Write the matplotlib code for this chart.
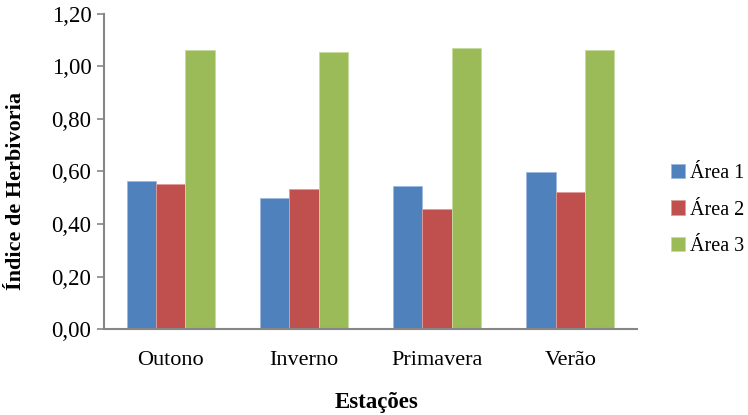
import numpy as np
import matplotlib
matplotlib.use('Agg')
import matplotlib.pyplot as plt
from matplotlib.ticker import FuncFormatter
from matplotlib.font_manager import FontProperties

plt.rcParams['font.family'] = ['Liberation Serif', 'DejaVu Serif']

# Herbivory index per season and area
seasons = ["Outono", "Inverno", "Primavera", "Verão"]
area1 = [0.565, 0.50, 0.545, 0.597]
area2 = [0.552, 0.533, 0.456, 0.521]
area3 = [1.063, 1.055, 1.069, 1.063]
series_labels = ["Área 1", "Área 2", "Área 3"]
colors = ["#4F81BD", "#C0504D", "#9BBB59"]
edges = ["#9DB9DD", "#E09D9B", "#C6DBA0"]

fig = plt.figure(figsize=(7.48, 4.15), dpi=100)
ax = fig.add_axes([0.139, 0.2072, 0.7126, 0.7591])

x = np.arange(len(seasons))
width = 0.22
for i, (vals, lab) in enumerate(zip([area1, area2, area3], series_labels)):
    ax.bar(x + (i - 1) * width, vals, width, color=colors[i], label=lab,
           edgecolor=edges[i], linewidth=0.6)

ax.set_xlim(-0.5, len(seasons) - 0.5)
ax.set_ylim(0, 1.2)
ax.set_yticks(np.arange(0, 1.21, 0.2))
ax.yaxis.set_major_formatter(FuncFormatter(lambda v, p: f"{v:.2f}".replace('.', ',')))
ax.set_xticks(x)
ax.set_xticklabels(seasons)

for s in ['top', 'right']:
    ax.spines[s].set_visible(False)
for s in ['left', 'bottom']:
    ax.spines[s].set_color('#868686')
    ax.spines[s].set_linewidth(1.5)

ax.tick_params(axis='y', length=5, width=1.2, color='#868686', labelsize=16.5, pad=4)
ax.tick_params(axis='x', length=0, labelsize=16, pad=16)

fig.text(0.021, 0.54, "Índice de Herbivoria", rotation=90, ha='center', va='center',
         fontsize=16, fontweight='bold')
fig.text(0.503, 0.029, "Estações", ha='center', va='center',
         fontsize=16.5, fontweight='bold')

fig.legend(loc='center left', bbox_to_anchor=(671 / 748, 1 - 210 / 415),
           frameon=False, prop=FontProperties(family='Liberation Serif', size=14.5),
           handlelength=0.7, handleheight=0.7,
           handletextpad=0.25, labelspacing=0.85, borderpad=0, borderaxespad=0)

fig.savefig("out.png", dpi=100)
